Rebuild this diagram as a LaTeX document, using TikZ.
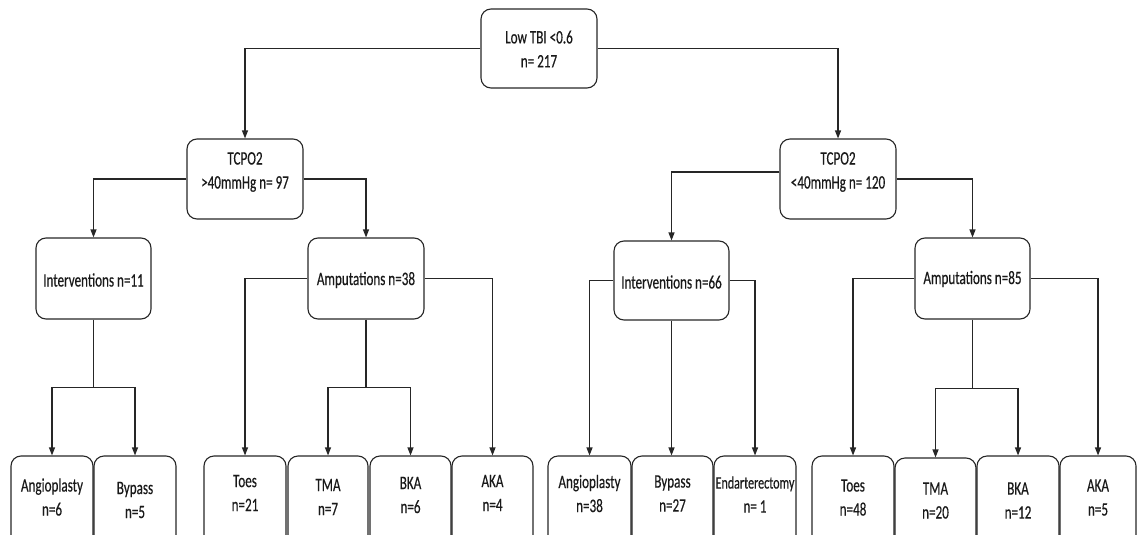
\documentclass[tikz,border=0pt]{standalone}
\usepackage{fontspec}
\setmainfont{Carlito}[FakeStretch=0.69,FakeBold=0.4]
\usetikzlibrary{arrows.meta}
\tikzset{
  box/.style={draw=black!85, line width=1.1pt, rounded corners=10pt, inner sep=0pt},
  txt/.style={align=center, inner sep=0pt, font=\fontsize{19}{24}\selectfont, text=black!90},
  conn/.style={draw=black!85, line width=1.1pt},
  arr/.style={conn, -{Triangle[length=8pt,width=6pt]}},
}
\newcommand\mkbox[7]{%
  \node[box, minimum width={(#4-#2)*1pt}, minimum height={(#5-#3)*1pt}] (#1) at ({(#2+#4)/2},{(#3+#5)/2}) {};
  \node[txt] (#1t) at ({(#2+#4)/2},#7) {#6};
}
\begin{document}
\begin{tikzpicture}[x=1pt,y=-1pt]
\useasboundingbox (0,0) rectangle (1137,535);
\clip (0,0) rectangle (1137,535);
% level 0-2
\mkbox{root}{481}{9}{597}{88}{Low TBI <0.6\\n= 217}{49}
\mkbox{L}{187}{139}{303}{219}{TCPO2\\>40mmHg n= 97}{172}
\mkbox{R}{780}{139}{896}{219}{TCPO2\\<40mmHg n= 120}{172}
\mkbox{I11}{36}{238}{151}{319}{Interventions n=11}{280}
\mkbox{A38}{308}{238}{424}{319}{Amputations n=38}{280}
\mkbox{I66}{614}{241}{729}{320}{Interventions n=66}{282}
\mkbox{A85}{915}{238}{1030}{319}{Amputations n=85}{279}
% bottom row left
\mkbox{la6}{11}{456}{93}{556}{Angioplasty\\n=6}{497}
\mkbox{lb5}{94}{456}{176}{556}{Bypass\\n=5}{500}
\mkbox{lt21}{204}{456}{286}{556}{Toes\\n=21}{493}
\mkbox{lm7}{288}{456}{368}{556}{TMA\\n=7}{497}
\mkbox{lk6}{370}{456}{451}{556}{BKA\\n=6}{495}
\mkbox{lak4}{452}{456}{533}{556}{AKA\\n=4}{493}
% bottom row right
\mkbox{ra38}{548}{456}{631}{556}{Angioplasty\\n=38}{493.5}
\mkbox{rb27}{632}{456}{713}{556}{Bypass\\n=27}{493.5}
\mkbox{re1}{714}{456}{796}{556}{{\fontsize{17.5}{24}\selectfont Endarterectomy}\\n= 1}{494.5}
\mkbox{rt48}{812}{456}{894}{556}{Toes\\n=48}{497.5}
\mkbox{rm20}{895}{458}{976}{556}{TMA\\n=20}{500.5}
\mkbox{rk12}{977}{456}{1059}{556}{BKA\\n=12}{500.5}
\mkbox{rak5}{1060}{456}{1136}{556}{AKA\\n=5}{497.5}
% connectors
\draw[arr] (root.west) -| (L.north);
\draw[arr] (root.east) -| (R.north);
\draw[arr] (L.west) -| (I11.north);
\draw[arr] (L.east) -| (A38.north);
\draw[arr] ([yshift=7pt]R.west) -| (I66.north);
\draw[arr] (R.east) -| (A85.north);
% Interventions n=11
\coordinate (j1) at ([yshift=-68pt]I11.south);
\draw[conn] (I11.south) -- (j1);
\draw[arr] (j1) -| (la6.north);
\draw[arr] (j1) -| (lb5.north);
% Amputations n=38
\coordinate (j2) at ([yshift=-68pt]A38.south);
\draw[arr] (A38.west) -| (lt21.north);
\draw[arr] (A38.east) -| (lak4.north);
\draw[conn] (A38.south) -- (j2);
\draw[arr] (j2) -| (lm7.north);
\draw[arr] (j2) -| (lk6.north);
% Interventions n=66
\draw[arr] (I66.west) -| (ra38.north);
\draw[arr] (I66.south) -- (I66.south |- rb27.north);
\draw[arr] (I66.east) -| (re1.north);
% Amputations n=85
\coordinate (j3) at ([yshift=-69pt]A85.south);
\draw[arr] (A85.west) -| (rt48.north);
\draw[arr] (A85.east) -| (rak5.north);
\draw[conn] (A85.south) -- (j3);
\draw[arr] (j3) -| (rm20.north);
\draw[arr] (j3) -| (rk12.north);
\end{tikzpicture}
\end{document}
